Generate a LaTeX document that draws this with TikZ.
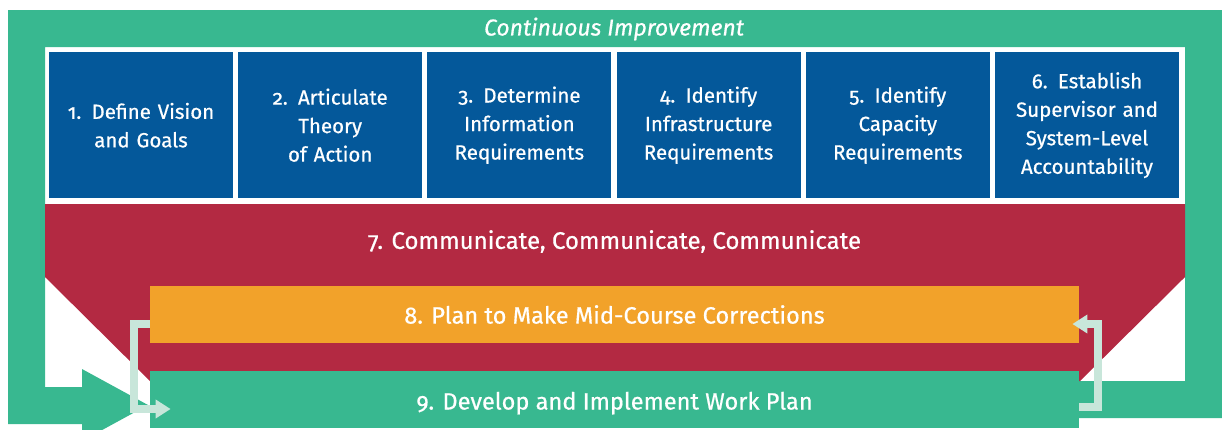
\documentclass[tikz,border=0pt]{standalone}
\usepackage{fontspec}
\setmainfont{Fira Sans}[Numbers=OldStyle, FakeBold=0.6]
\usetikzlibrary{arrows.meta}

\definecolor{loopgreen}{RGB}{56,184,144}
\definecolor{stepblue}{RGB}{4,88,154}
\definecolor{commred}{RGB}{179,41,66}
\definecolor{planorange}{RGB}{242,162,42}
\definecolor{paleloop}{RGB}{200,230,218}

\tikzset{every picture/.style={line width=0.75pt}}
\tikzset{
	stepbox/.style={fill=stepblue, text=white, minimum width=184pt, minimum height=146.5pt, inner sep=0pt, text width=176pt, align=center, font=\fontsize{20.5}{28.5}\selectfont},
	widebox/.style={minimum width=929pt, minimum height=57pt, inner sep=0pt, text=white, font=\fontsize{23.6}{26}\selectfont},
	backarrow/.style={draw=paleloop, line width=8pt, line join=miter, -{Triangle[length=15pt,width=18pt]}}
}

\begin{document}
\begin{tikzpicture}[x=1pt,y=1pt,yscale=-1,xscale=1]
	\useasboundingbox (0,0) rectangle (1222,429);
	
	%Shape: Big loop arrow
	\fill [loopgreen] (8,10) -- (1222,10) -- (1222,418) -- (1079,418) -- (1079,381) -- (1185,381) -- (1185,47) -- (45,47) -- (45,387) -- (82,387) -- (82,369) -- (148,405) -- (82,441) -- (82,424) -- (8,424) -- cycle ;
	%Shape: Red funnel
	\fill [commred] (45,204) -- (1185,204) -- (1185,277) -- (1080,381) -- (150,381) -- (45,277) -- cycle ;
	
	% Text Node
	\node [font=\fontsize{23}{26}\selectfont\itshape, text=white] (title) at (614,29) {Continuous Improvement};
	
	% Step boxes
	\node [stepbox] (s1) at (141,125.2) {1. Define Vision\\and Goals};
	\node [stepbox] (s2) at (330.2,125.2) {2. Articulate\\Theory\\of Action};
	\node [stepbox] (s3) at (519.4,125.2) {3. Determine\\Information\\Requirements};
	\node [stepbox] (s4) at (708.6,125.2) {4. Identify\\Infrastructure\\Requirements};
	\node [stepbox] (s5) at (897.8,125.2) {5. Identify\\Capacity\\Requirements};
	\node [stepbox] (s6) at (1087,125.2) {6. Establish\\Supervisor and\\System-Level\\Accountability};
	
	% Text Node
	\node [font=\fontsize{24}{26}\selectfont, text=white] (s7) at (614.5,241.5) {7. Communicate, Communicate, Communicate};
	
	% Wide boxes
	\node [widebox, fill=planorange] (s8) at (614.5,314.5) {\raisebox{-2.5pt}{8. Plan to Make Mid-Course Corrections}};
	\node [widebox, fill=loopgreen] (s9) at (614.5,399.5) {\raisebox{-10pt}[0pt][0pt]{9. Develop and Implement Work Plan}};
	
	%Straight Lines: feedback arrows
	\draw [backarrow] ([yshift=9.5pt]s8.west) -- ++(-16,0) |- ([shift={(21pt,9.5pt)}]s9.west) ;
	\draw [backarrow] ([yshift=7.5pt]s9.east) -- ++(19,0) |- ([shift={(-7pt,9.5pt)}]s8.east) ;
	
\end{tikzpicture}
\end{document}
